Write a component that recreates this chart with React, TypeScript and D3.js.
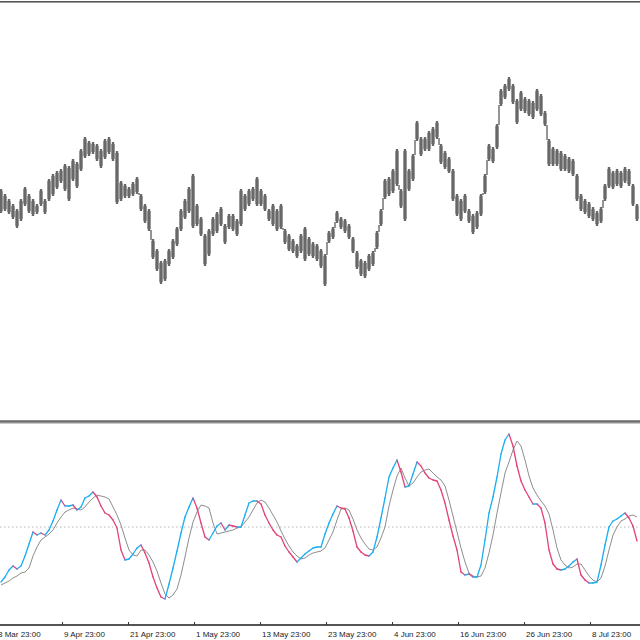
import * as d3 from 'd3';

// price bars, one every 4px of chart width
const highs = [
  1.1210, 1.1205, 1.1200, 1.1195, 1.1190, 1.1200, 1.1212, 1.1205, 1.1200, 1.1195,
  1.1210, 1.1200, 1.1220, 1.1225, 1.1228, 1.1230, 1.1235, 1.1233, 1.1240, 1.1237,
  1.1250, 1.1262, 1.1258, 1.1257, 1.1255, 1.1250, 1.1260, 1.1262, 1.1257, 1.1248,
  1.1218, 1.1215, 1.1212, 1.1217, 1.1222, 1.1205, 1.1195, 1.1190, 1.1160, 1.1150,
  1.1138, 1.1140, 1.1150, 1.1160, 1.1172, 1.1190, 1.1200, 1.1212, 1.1225, 1.1195,
  1.1182, 1.1165, 1.1170, 1.1182, 1.1187, 1.1192, 1.1175, 1.1185, 1.1185, 1.1180,
  1.1210, 1.1205, 1.1210, 1.1212, 1.1222, 1.1210, 1.1205, 1.1190, 1.1195, 1.1190,
  1.1195, 1.1170, 1.1165, 1.1160, 1.1155, 1.1165, 1.1172, 1.1162, 1.1157, 1.1155,
  1.1150, 1.1145, 1.1168, 1.1172, 1.1188, 1.1182, 1.1180, 1.1175, 1.1162, 1.1148,
  1.1140, 1.1138, 1.1145, 1.1148, 1.1168, 1.1190, 1.1220, 1.1222, 1.1230, 1.1250,
  1.1210, 1.1250, 1.1230, 1.1245, 1.1278, 1.1262, 1.1262, 1.1268, 1.1272, 1.1278,
  1.1255, 1.1248, 1.1242, 1.1230, 1.1205, 1.1200, 1.1205, 1.1190, 1.1185, 1.1188,
  1.1205, 1.1225, 1.1255, 1.1252, 1.1275, 1.1310, 1.1315, 1.1322, 1.1315, 1.1300,
  1.1308, 1.1302, 1.1300, 1.1298, 1.1310, 1.1305, 1.1288, 1.1260, 1.1252, 1.1250,
  1.1248, 1.1245, 1.1242, 1.1240, 1.1225, 1.1205, 1.1200, 1.1197, 1.1192, 1.1188,
  1.1192, 1.1215, 1.1232, 1.1228, 1.1230, 1.1228, 1.1232, 1.1230, 1.1215, 1.1195,
];
const lows = [
  1.1188, 1.1190, 1.1187, 1.1182, 1.1173, 1.1180, 1.1195, 1.1188, 1.1185, 1.1187,
  1.1195, 1.1187, 1.1200, 1.1205, 1.1212, 1.1218, 1.1210, 1.1200, 1.1220, 1.1213,
  1.1230, 1.1243, 1.1245, 1.1247, 1.1240, 1.1233, 1.1242, 1.1247, 1.1240, 1.1197,
  1.1200, 1.1203, 1.1203, 1.1205, 1.1207, 1.1190, 1.1178, 1.1170, 1.1142, 1.1130,
  1.1117, 1.1120, 1.1135, 1.1142, 1.1155, 1.1170, 1.1182, 1.1188, 1.1173, 1.1175,
  1.1165, 1.1135, 1.1145, 1.1165, 1.1168, 1.1175, 1.1157, 1.1172, 1.1170, 1.1165,
  1.1175, 1.1190, 1.1195, 1.1200, 1.1195, 1.1195, 1.1190, 1.1180, 1.1175, 1.1170,
  1.1172, 1.1157, 1.1150, 1.1148, 1.1143, 1.1148, 1.1140, 1.1145, 1.1143, 1.1140,
  1.1133, 1.1115, 1.1158, 1.1162, 1.1178, 1.1172, 1.1168, 1.1162, 1.1148, 1.1132,
  1.1125, 1.1123, 1.1130, 1.1135, 1.1152, 1.1175, 1.1202, 1.1205, 1.1208, 1.1215,
  1.1193, 1.1180, 1.1210, 1.1220, 1.1260, 1.1245, 1.1250, 1.1250, 1.1255, 1.1262,
  1.1237, 1.1232, 1.1228, 1.1200, 1.1185, 1.1180, 1.1188, 1.1178, 1.1167, 1.1172,
  1.1185, 1.1207, 1.1240, 1.1238, 1.1252, 1.1295, 1.1302, 1.1310, 1.1297, 1.1277,
  1.1290, 1.1288, 1.1285, 1.1282, 1.1290, 1.1285, 1.1275, 1.1235, 1.1235, 1.1235,
  1.1230, 1.1230, 1.1228, 1.1225, 1.1200, 1.1190, 1.1187, 1.1183, 1.1180, 1.1175,
  1.1178, 1.1200, 1.1213, 1.1212, 1.1215, 1.1213, 1.1218, 1.1215, 1.1195, 1.1180,
];

// stochastic main (%K) and signal (%D)
const stochK = [
  22.5, 25, 28.5, 30.5, 29, 30.5, 35.5, 41.5, 47.5, 46,
  47, 46, 48.5, 53, 58.5, 63.5, 60.5, 60.5, 61, 58.5,
  60, 64.5, 65.5, 67.5, 65, 60.5, 57, 56, 53.5, 49.5,
  38.5, 33.5, 34, 36.5, 39.5, 41, 37, 32, 25, 19.5,
  15, 14, 21.5, 29.5, 38, 47, 55, 60, 64.5, 59.5,
  52, 45, 43.5, 47, 50.5, 52, 48.5, 51, 50.5, 50,
  50, 56, 62, 63, 63, 61.5, 56, 52, 48.5, 46,
  45, 40.5, 37.5, 35, 32.5, 34.5, 36.5, 38, 39.5, 40,
  40, 46.5, 52, 56.5, 60.5, 59.5, 59, 54.5, 48, 40,
  37.5, 36, 35.5, 37.5, 45, 54.5, 64.5, 75, 79.5, 83.5,
  77.5, 70, 70.5, 76.5, 82.5, 80.5, 77, 74.5, 73.5, 73,
  68.5, 62, 53.5, 45.5, 38.5, 27.5, 26, 26.5, 25, 25,
  31, 43.5, 57, 65, 75, 86.5, 93.5, 96.5, 90.5, 80.5,
  73, 68.5, 65, 61.5, 61.5, 59.5, 52, 38.5, 31.5, 29,
  28.5, 29, 30.5, 32.5, 34, 26, 23.5, 22, 22, 22.5,
  31, 41, 50, 53, 54, 55.5, 57, 54.5, 50.5, 43,
];
const stochD = [
  21, 22, 23, 24.5, 25.5, 27, 27.5, 29.5, 35.5, 40,
  43.5, 45, 46.5, 48.5, 52, 55, 57.5, 58.5, 59.5, 59,
  58.5, 60, 62.5, 64.5, 66, 65.5, 65, 64, 60, 56,
  51, 44.5, 38.5, 36, 35.5, 38.5, 38.5, 36, 32.5, 28,
  22, 16.5, 14.5, 16, 19, 26, 35, 44.5, 52.5, 57.5,
  61, 60.5, 59.5, 52, 46.5, 47, 47.5, 48, 48.5, 49.5,
  50, 52.5, 55, 58.5, 62, 63.5, 62.5, 59.5, 56, 52.5,
  48, 44, 40.5, 37.5, 35.5, 34, 34.5, 36, 37, 37.5,
  38, 39.5, 43.5, 47.5, 53.5, 59, 59.5, 58.5, 54, 48.5,
  44.5, 41.5, 39, 38.5, 40, 44.5, 50, 60.5, 68.5, 75.5,
  79.5, 74.5, 70.5, 72, 75, 77.5, 78.5, 79, 77, 75,
  73.5, 70.5, 63.5, 55.5, 47.5, 39.5, 32.5, 27, 25.5, 25,
  25.5, 29.5, 37, 46, 57, 67, 77, 82.5, 88.5, 93,
  90.5, 83.5, 75.5, 69.5, 66, 63, 60.5, 56.5, 48.5, 39.5,
  33.5, 31, 29.5, 30, 31.5, 31.5, 28.5, 25.5, 23.5, 22.5,
  24.5, 30.5, 38.5, 46, 50, 53, 54, 55.5, 56, 55,
];

const timeLabels = [
  '8 Mar 23:00', '9 Apr 23:00', '21 Apr 23:00', '1 May 23:00', '13 May 23:00',
  '23 May 23:00', '4 Jun 23:00', '16 Jun 23:00', '26 Jun 23:00', '8 Jul 23:00',
];
// bar position of each time tick
const labelBars = [-1, 15.5, 32, 48.5, 65, 81.5, 98, 114.5, 131, 147.5];

const W = 640;
const H = 640;
const BLUE = '#1aaef2';
const RED = '#e2427a';
const BAR = '#686868';

export default function App() {
  const x = d3.scaleLinear().domain([0, 160]).range([1, 641]);
  const yPrice = d3.scaleLinear().domain([1.098, 1.1397]).range([420, 3]);
  const yOsc = d3.scaleLinear().domain([0, 100]).range([627, 427]);

  const signalLine = d3
    .line<number>()
    .x((_, i) => x(i))
    .y((d) => yOsc(d));

  // join consecutive bars where their ranges do not overlap
  const bridges = highs.slice(1).map((h, j) => {
    const i = j + 1;
    const lo = lows[i];
    if (lo > highs[j]) return [highs[j], lo];
    if (h < lows[j]) return [h, lows[j]];
    return null;
  });

  return (
    <svg
      width={W}
      height={H}
      style={{ position: 'fixed', left: 0, top: 0, background: '#fff' }}
      fontFamily="'Liberation Sans', Arial, sans-serif"
    >
      <rect width={W} height={H} fill="#fff" />

      {/* top frame */}
      <line x1={0} x2={W} y1={1.5} y2={1.5} stroke="#555" strokeWidth={1} />
      <line x1={0} x2={W} y1={2.5} y2={2.5} stroke="#9a9a9a" strokeWidth={1} />

      {/* price bars: light body behind, darker bar strokes on top */}
      <g fill="#a4a4a4">
        {highs.map((h, i) => (
          <rect
            key={'r' + i}
            x={x(i) - 2}
            width={4}
            y={yPrice(h) + 1}
            height={Math.max(0, yPrice(lows[i]) - yPrice(h) - 2)}
          />
        ))}
      </g>
      <g stroke={BAR}>
        {bridges.map((b, j) =>
          b ? (
            <line
              key={'b' + j}
              x1={x(j + 0.5)}
              x2={x(j + 0.5)}
              y1={yPrice(b[0])}
              y2={yPrice(b[1])}
              strokeWidth={1.4}
            />
          ) : null
        )}
        {highs.map((h, i) => (
          <line
            key={i}
            x1={x(i)}
            x2={x(i)}
            y1={yPrice(h) - 1}
            y2={yPrice(lows[i]) + 1}
            strokeWidth={2.4}
          />
        ))}
      </g>

      {/* panel separator */}
      <line x1={0} x2={W} y1={421.5} y2={421.5} stroke="#6a6a6a" strokeWidth={2.5} />
      <line x1={0} x2={W} y1={423.5} y2={423.5} stroke="#c8c8c8" strokeWidth={1} />

      {/* level line */}
      <line
        x1={0}
        x2={W}
        y1={yOsc(50)}
        y2={yOsc(50)}
        stroke="#b8b8b8"
        strokeWidth={1}
        strokeDasharray="1.5 2.5"
      />

      {/* signal */}
      <path d={signalLine(stochD) ?? ''} fill="none" stroke="#8e8e8e" strokeWidth={1} />

      {/* main line, blue when rising, red when falling */}
      <g strokeWidth={1.3} strokeLinecap="round">
        {stochK.slice(1).map((v, j) => {
          const prev = stochK[j];
          return (
            <line
              key={j}
              x1={x(j)}
              x2={x(j + 1)}
              y1={yOsc(prev)}
              y2={yOsc(v)}
              stroke={v >= prev ? BLUE : RED}
            />
          );
        })}
      </g>

      {/* time axis */}
      <line x1={0} x2={W} y1={625} y2={625} stroke="#555" strokeWidth={2} />
      {labelBars.map((b, i) => (
        <g key={i} transform={`translate(${Math.round(x(b) - 1)},0)`}>
          <line x1={0.5} x2={0.5} y1={622} y2={625} stroke="#333" strokeWidth={1} />
          <text x={2} y={636.5} fontSize={8} fill="#222">
            {timeLabels[i]}
          </text>
        </g>
      ))}
    </svg>
  );
}
